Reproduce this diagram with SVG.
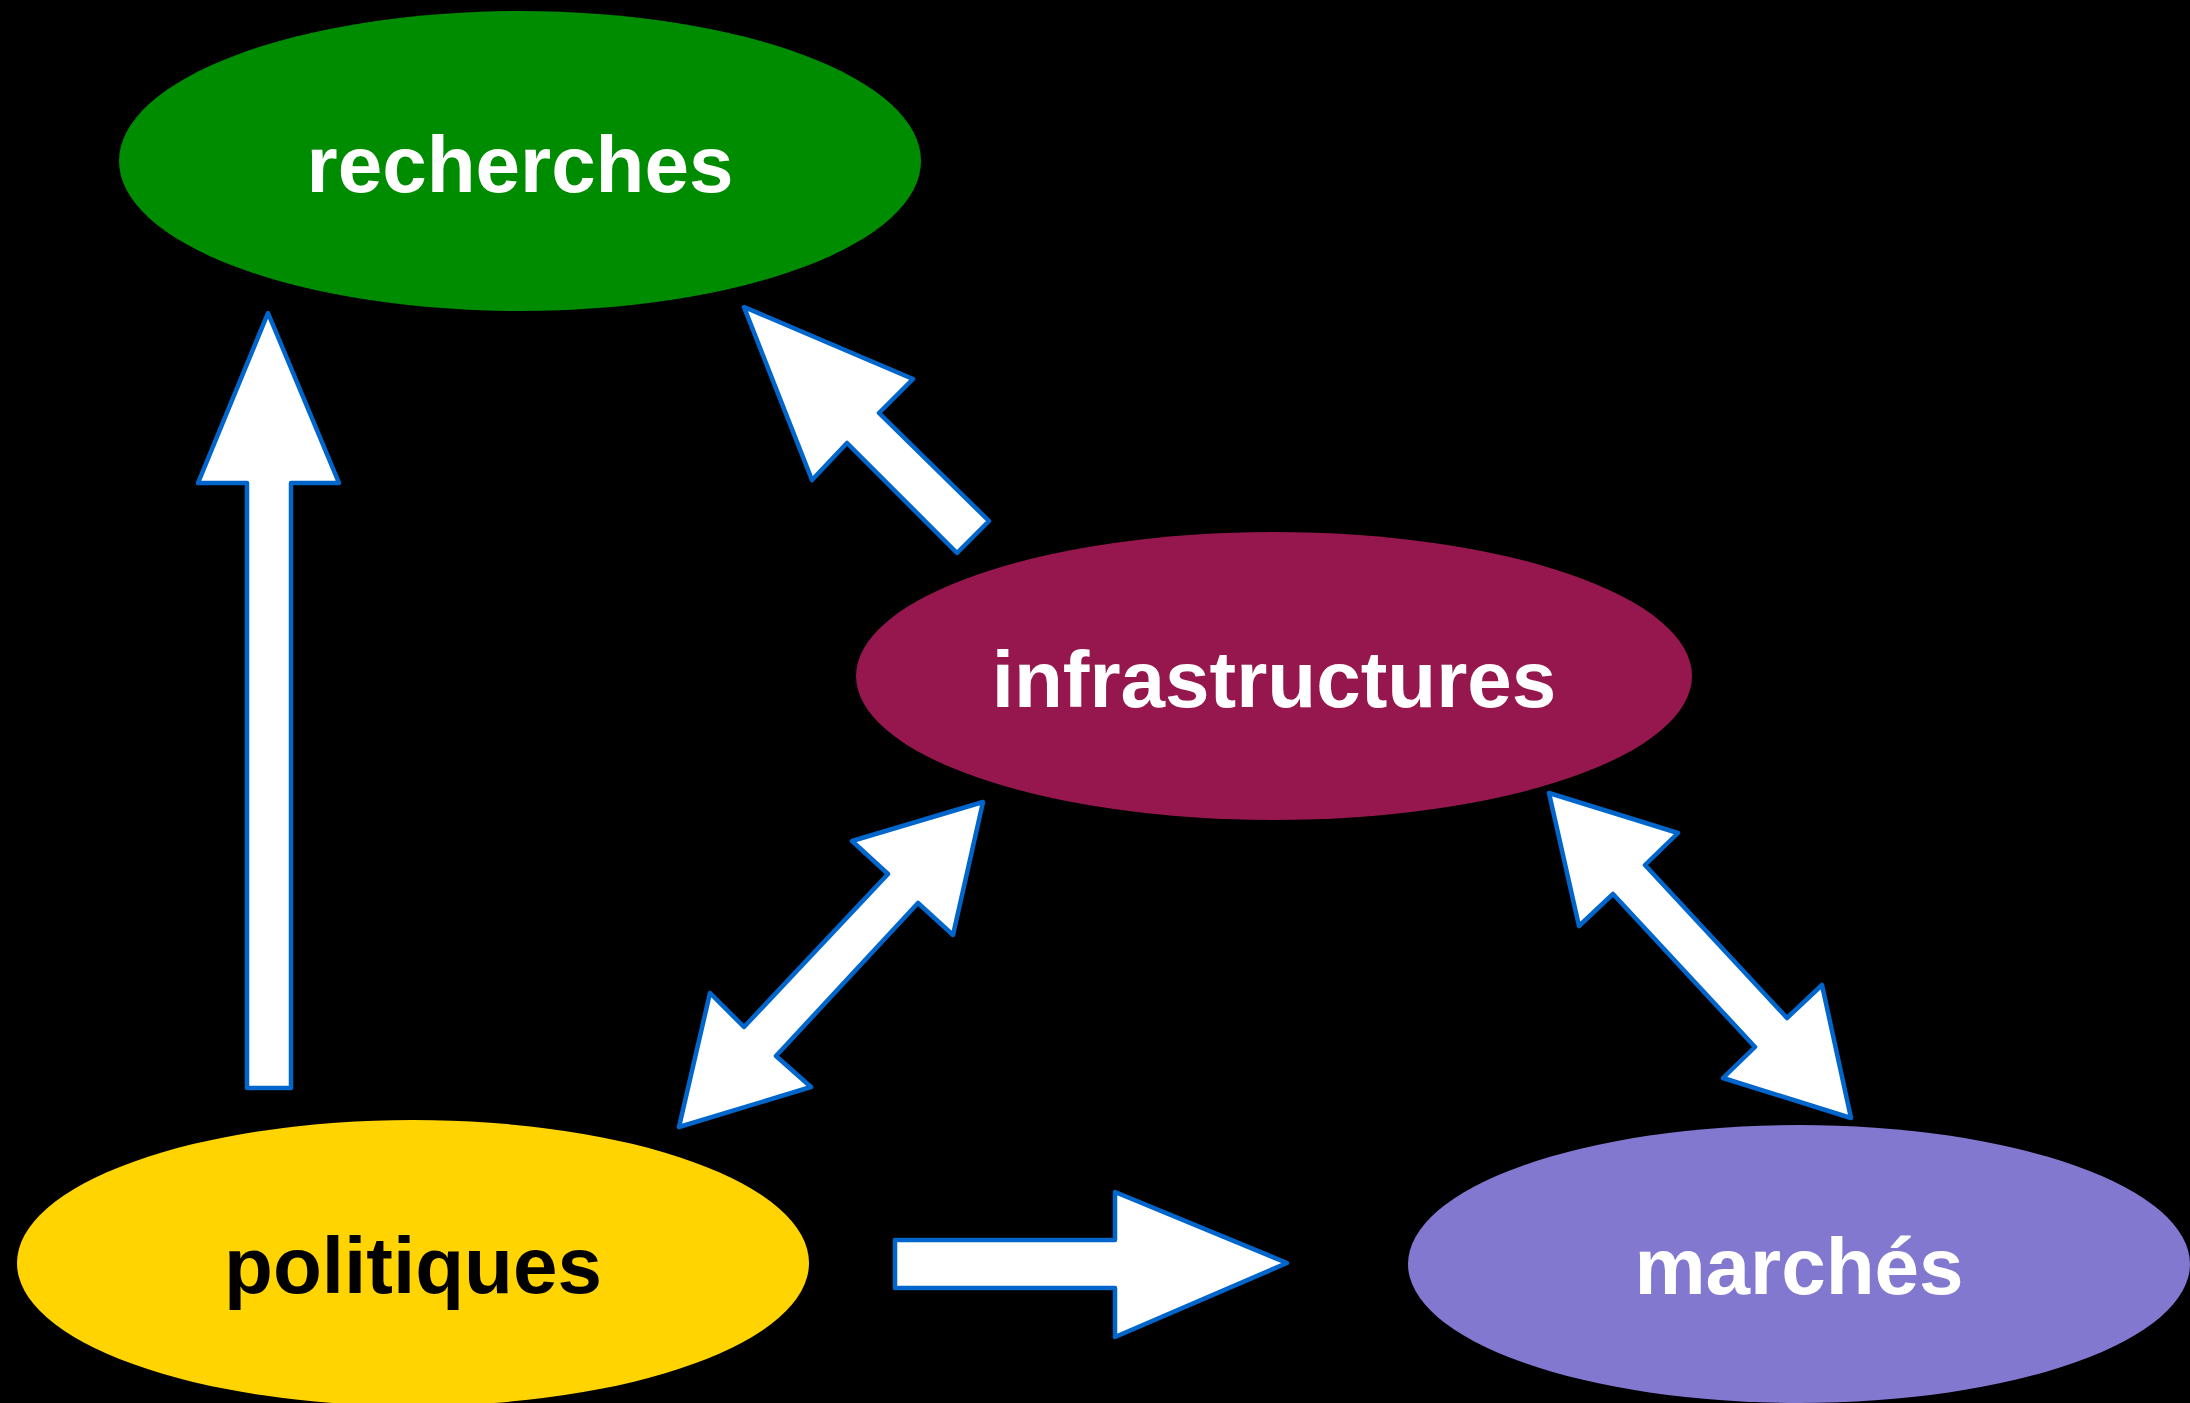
<svg xmlns="http://www.w3.org/2000/svg" width="2190" height="1403" viewBox="0 0 2190 1403">
<style>
.lbl{font-family:"Liberation Sans",Arial,Helvetica,sans-serif;font-weight:bold;font-size:80px;text-anchor:middle}
.arr{fill:#ffffff;stroke:#0066cc;stroke-width:4.5;stroke-linejoin:round}
</style>
<rect x="0" y="0" width="2190" height="1403" fill="#000000"/>
<g id="recherches">
<ellipse cx="520" cy="161" rx="401" ry="150" fill="#008c00"/>
<text class="lbl" x="520" y="192" fill="#ffffff">recherches</text>
</g>
<g id="infrastructures">
<ellipse cx="1274" cy="676" rx="418" ry="144" fill="#95174d"/>
<text class="lbl" x="1274" y="707" fill="#ffffff">infrastructures</text>
</g>
<g id="politiques">
<ellipse cx="413" cy="1263" rx="396" ry="143" fill="#ffd400"/>
<text class="lbl" x="413" y="1293" fill="#000000">politiques</text>
</g>
<g id="marches">
<ellipse cx="1799" cy="1264" rx="391" ry="139" fill="#8278d0"/>
<text class="lbl" x="1799" y="1294" fill="#ffffff">marchés</text>
</g>
<g id="connectors">
<polygon class="arr" points="268,313 339,483 291,483 291,1088 247,1088 247,483 198,483"/>
<polygon class="arr" points="744,307 913,379 879,413 989,521 957,553 847,443 812,480"/>
<polygon class="arr" points="983,802 953,935 918,903 776,1056 811,1087 679,1127 710,993 744,1027 888,874 852,841"/>
<polygon class="arr" points="1549,793 1678,833 1645,865 1787,1018 1822,985 1851,1118 1723,1078 1755,1047 1613,894 1579,926"/>
<polygon class="arr" points="895,1240 1115,1240 1115,1192 1287,1263 1115,1337 1115,1288 895,1288"/>
</g>
</svg>
